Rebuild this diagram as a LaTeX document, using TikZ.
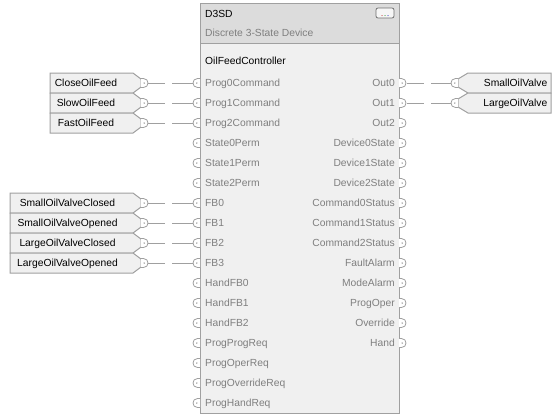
\documentclass[tikz,border=0pt]{standalone}
\usepackage{fontspec}
\setmainfont{Liberation Sans}
\definecolor{labelgray}{HTML}{7F7F7F}
\definecolor{linegray}{HTML}{A0A0A0}
\definecolor{bodyfill}{HTML}{F0F0F0}
\definecolor{hdrfill}{HTML}{DCDCDC}
\definecolor{btnline}{HTML}{707070}
\definecolor{btnfill}{HTML}{F6F6F6}
\tikzset{
  pinR/.pic={\draw[pinshape] (0,-4.5) -- (2.5,-4.5) .. controls (8.5,-4.5) and (8.5,4.5) .. (2.5,4.5) -- (0,4.5);
             \fill[linegray] (3.2,0) circle (0.8);},
  pinL/.pic={\draw[pinshape] (0,-4.5) -- (-2.5,-4.5) .. controls (-8.5,-4.5) and (-8.5,4.5) .. (-2.5,4.5) -- (0,4.5);
             \fill[linegray] (-3.2,0) circle (0.8);},
}
\begin{document}
\begin{tikzpicture}[x=1pt,y=-1pt,
  every node/.style={font=\fontsize{10.3}{12}\selectfont, inner sep=0pt},
  lbl/.style={text=labelgray},
  tagbox/.style={draw=linegray, fill=bodyfill, line width=1pt},
  conn/.style={draw=linegray, line width=1pt, dash pattern=on 17pt off 7pt on 60pt},
  pinshape/.style={draw=linegray, fill=white, line width=0.8pt},
]
\useasboundingbox (0,0) rectangle (560,416);
\fill[white] (0,0) rectangle (560,416);

% main block
\node[draw=linegray, fill=bodyfill, line width=1pt, minimum width=199pt, minimum height=410pt, anchor=north west] (blk) at (200,3) {};
\fill[hdrfill] (200.5,3.5) rectangle (398.5,43);
\draw[linegray, line width=1pt] (200,43) -- (399,43);
\draw[linegray, line width=1pt] (200,3) rectangle (399,413);
\node[anchor=base west] (title) at (205,17.3) {D3SD};
\node[lbl, anchor=base west] (subtitle) at (205,36) {Discrete 3-State Device};
\node[anchor=base west] (tagname) at (205,64) {OilFeedController};
% button
\node[draw=btnline, fill=btnfill, rounded corners=2pt, line width=0.8pt, minimum width=18pt, minimum height=10pt] (btn) at (385,13) {};
\fill[red!70!black] (382,15.5) circle (0.5);
\fill[green!50!black] (385,15.5) circle (0.5);
\fill[blue!70!black] (388,15.5) circle (0.5);

% block inputs
\foreach \t [count=\i from 0] in {Prog0Command,Prog1Command,Prog2Command,State0Perm,State1Perm,State2Perm,FB0,FB1,FB2,FB3,HandFB0,HandFB1,HandFB2,ProgProgReq,ProgOperReq,ProgOverrideReq,ProgHandReq}{
  \pgfmathsetmacro\yy{83+20*\i}
  \node[lbl, anchor=base west] (li\i) at (205,\yy+3.7) {\t};
  \pic at (200,\yy) {pinL};
  \coordinate (bi\i) at (193,\yy);
}
% block outputs
\foreach \t [count=\i from 0] in {Out0,Out1,Out2,Device0State,Device1State,Device2State,Command0Status,Command1Status,Command2Status,FaultAlarm,ModeAlarm,ProgOper,Override,Hand}{
  \pgfmathsetmacro\yy{83+20*\i}
  \node[lbl, anchor=base east] (lo\i) at (395,\yy+3.7) {\t};
  \pic at (399,\yy) {pinR};
  \coordinate (bo\i) at (407,\yy);
}

% input tags
\foreach \t/\r/\xa/\xc in {CloseOilFeed/0/50/86, SlowOilFeed/1/50/86, FastOilFeed/2/50/86,
   SmallOilValveClosed/6/10/67.5, SmallOilValveOpened/7/10/67.5, LargeOilValveClosed/8/10/67.5, LargeOilValveOpened/9/10/67.5}{
  \pgfmathsetmacro\yy{83+20*\r}
  \draw[tagbox] (\xa,\yy-10) -- (133,\yy-10) -- (141,\yy-4) -- (141,\yy+4) -- (133,\yy+10) -- (\xa,\yy+10) -- cycle;
  \node[anchor=base] (tag\r) at (\xc,\yy+3.7) {\t};
  \pic at (141,\yy) {pinR};
  \coordinate (tp\r) at (148,\yy);
  \draw[conn] (tp\r) -- (bi\r);
}

% output tags
\foreach \t/\r in {SmallOilValve/0, LargeOilValve/1}{
  \pgfmathsetmacro\yy{83+20*\r}
  \draw[tagbox] (458,\yy-4) -- (468,\yy-10) -- (551,\yy-10) -- (551,\yy+10) -- (468,\yy+10) -- (458,\yy+4) -- cycle;
  \node[anchor=base east] (otag\r) at (547.5,\yy+3.7) {\t};
  \pic at (458,\yy) {pinL};
  \coordinate (op\r) at (451,\yy);
  \draw[conn] (bo\r) -- (op\r);
}
\end{tikzpicture}
\end{document}
